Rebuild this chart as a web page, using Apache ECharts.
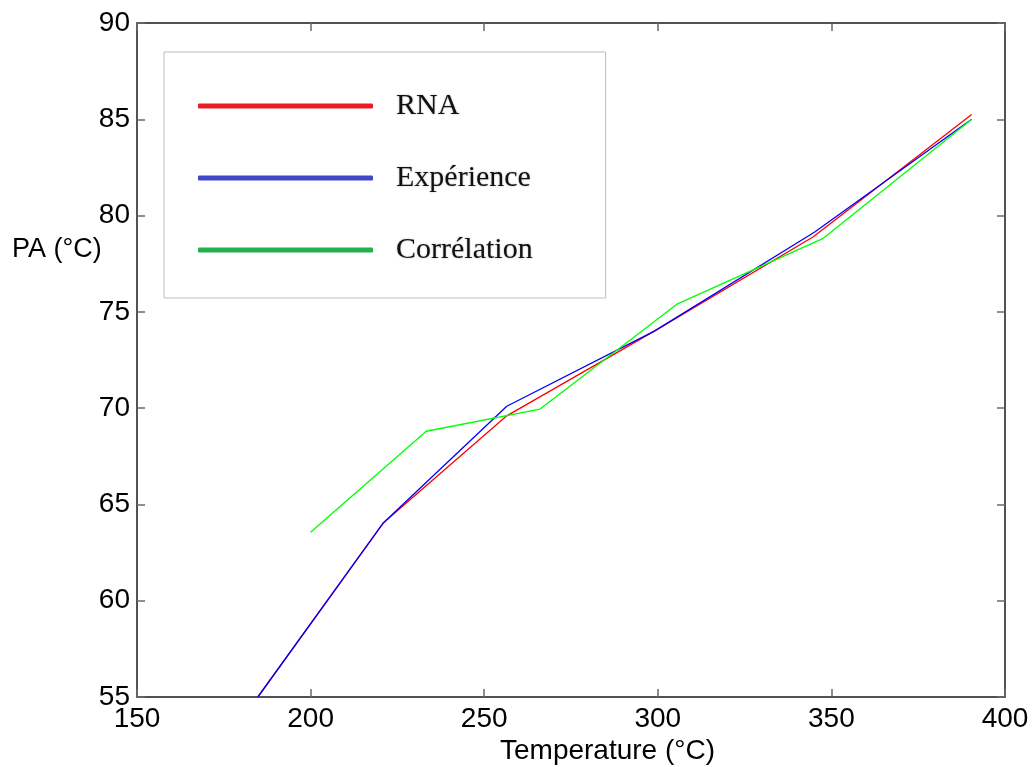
<!DOCTYPE html>
<html>
<head>
<meta charset="utf-8">
<title>PA vs Temperature</title>
<script src="https://cdn.jsdelivr.net/npm/echarts@6/dist/echarts.min.js"></script>
<style>
  html, body { margin: 0; padding: 0; background: #fff; }
  #chart { width: 1033px; height: 767px; }
</style>
</head>
<body>
<div id="chart"></div>
<script>
// Temperature (°C) and PA (°C) for each curve
const rnaTemp  = [184.8, 221.0, 256.5, 299.0, 344.8, 390.4];
const rnaPA    = [55.0, 64.05, 69.6, 74.0, 78.9, 85.25];
const expTemp  = [184.8, 221.0, 256.5, 299.0, 345.2, 390.4];
const expPA    = [55.0, 64.05, 70.1, 74.0, 79.15, 85.0];
const corTemp  = [200.0, 233.3, 266.1, 305.5, 347.5, 390.4];
const corPA    = [63.55, 68.8, 69.95, 75.4, 78.8, 85.0];

const seriesNames = ['RNA', 'Expérience', 'Corrélation'];
const xTicks = { min: 150, max: 400, step: 50 };
const yTicks = { min: 55, max: 90, step: 5 };

const pairs = (xs, ys) => xs.map((x, i) => [x, ys[i]]);

const sansFont = '"Liberation Sans", Arial, sans-serif';
const serifFont = '"Liberation Serif", "Times New Roman", serif';

const axisLine = { show: true, lineStyle: { color: '#1a1a1a', width: 1.5 } };
const axisTick = { show: true, inside: true, length: 8, lineStyle: { color: '#6b6b6b', width: 1.5 } };

const chart = echarts.init(document.getElementById('chart'), null, { renderer: 'canvas' });

chart.setOption({
  animation: false,
  backgroundColor: '#ffffff',
  title: [
    {
      text: 'PA (°C)',
      left: 12,
      top: 236,
      padding: 0,
      textStyle: { fontFamily: sansFont, fontSize: 27, fontWeight: 'normal', color: '#000' }
    },
    {
      text: 'Temperature (°C)',
      left: 500,
      top: 737,
      padding: 0,
      textStyle: { fontFamily: sansFont, fontSize: 28, fontWeight: 'normal', color: '#000' }
    }
  ],
  grid: { left: 137, right: 28, top: 23, bottom: 70, outerBoundsMode: 'none' },
  legend: {
    orient: 'vertical',
    left: 164,
    top: 52,
    padding: [39, 73, 33, 34],
    itemGap: 42,
    itemWidth: 175,
    itemHeight: 5,
    icon: 'roundRect',
    borderColor: '#bdbdbd',
    borderWidth: 1,
    selectedMode: false,
    textStyle: {
      fontFamily: serifFont,
      fontSize: 30,
      color: '#111',
      padding: [0, 0, 0, 18],
      textShadowColor: 'rgba(0,0,0,0.3)',
      textShadowBlur: 2
    },
    data: [
      { name: seriesNames[0], itemStyle: { color: '#ED1C24' } },
      { name: seriesNames[1], itemStyle: { color: '#3F48CC' } },
      { name: seriesNames[2], itemStyle: { color: '#22B14C' } }
    ]
  },
  xAxis: [
    {
      type: 'value',
      position: 'bottom',
      min: xTicks.min, max: xTicks.max, interval: xTicks.step,
      axisLine: axisLine,
      axisTick: axisTick,
      axisLabel: { fontFamily: sansFont, fontSize: 28, color: '#000', margin: 8 },
      splitLine: { show: false }
    },
    {
      type: 'value',
      position: 'top',
      min: xTicks.min, max: xTicks.max, interval: xTicks.step,
      axisLine: axisLine,
      axisTick: axisTick,
      axisLabel: { show: false },
      splitLine: { show: false }
    }
  ],
  yAxis: [
    {
      type: 'value',
      position: 'left',
      min: yTicks.min, max: yTicks.max, interval: yTicks.step,
      axisLine: axisLine,
      axisTick: axisTick,
      axisLabel: { fontFamily: sansFont, fontSize: 28, color: '#000', margin: 7 },
      splitLine: { show: false }
    },
    {
      type: 'value',
      position: 'right',
      min: yTicks.min, max: yTicks.max, interval: yTicks.step,
      axisLine: axisLine,
      axisTick: axisTick,
      axisLabel: { show: false },
      splitLine: { show: false }
    }
  ],
  series: [
    {
      name: seriesNames[0], type: 'line', xAxisIndex: 0, yAxisIndex: 0,
      data: pairs(rnaTemp, rnaPA), showSymbol: false, symbol: 'none',
      lineStyle: { color: '#FF0000', width: 1.3 }, itemStyle: { color: '#ED1C24' }
    },
    {
      name: seriesNames[1], type: 'line', xAxisIndex: 0, yAxisIndex: 0,
      data: pairs(expTemp, expPA), showSymbol: false, symbol: 'none',
      lineStyle: { color: '#0000FF', width: 1.3 }, itemStyle: { color: '#3F48CC' }
    },
    {
      name: seriesNames[2], type: 'line', xAxisIndex: 0, yAxisIndex: 0,
      data: pairs(corTemp, corPA), showSymbol: false, symbol: 'none',
      lineStyle: { color: '#00FF00', width: 1.3 }, itemStyle: { color: '#22B14C' }
    }
  ]
});
</script>
</body>
</html>
